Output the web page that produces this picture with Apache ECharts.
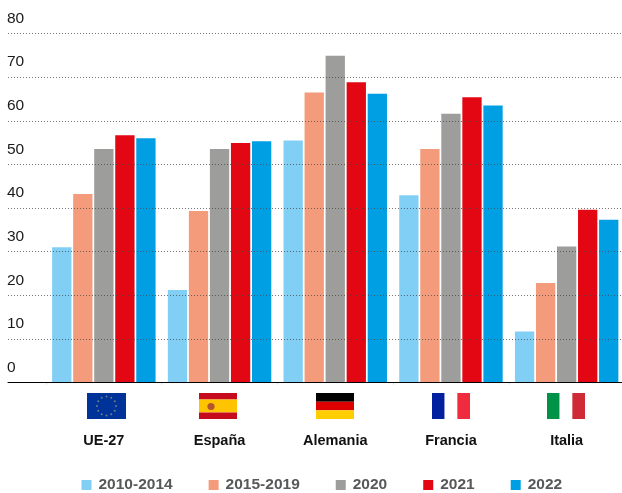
<!DOCTYPE html>
<html>
<head>
<meta charset="utf-8">
<style>
  html, body { margin: 0; padding: 0; background: #fff; }
  #chart { width: 622px; height: 493px; }
</style>
</head>
<body>
<div id="chart"></div>
<script src="https://cdn.jsdelivr.net/npm/echarts@6/dist/echarts.min.js"></script>
<script>
var categories = ["UE-27", "España", "Alemania", "Francia", "Italia"];
var seriesNames = ["2010-2014", "2015-2019", "2020", "2021", "2022"];
var seriesColors = ["#82cff5", "#f39b7b", "#9d9d9c", "#e30613", "#009fe3"];

var values2010 = [31, 21.2, 55.5, 42.9, 11.7];
var values2015 = [43.2, 39.3, 66.5, 53.5, 22.8];
var values2020 = [53.5, 53.5, 74.9, 61.6, 31.2];
var values2021 = [56.7, 54.9, 68.8, 65.4, 39.6];
var values2022 = [56, 55.3, 66.2, 63.5, 37.3];
var allValues = [values2010, values2015, values2020, values2021, values2022];

var font = '"Liberation Sans", Arial, sans-serif';
var chartInstance = echarts.init(document.getElementById("chart"));

// banderas: dibujadas como decoracion bajo el eje
function rect(x, y, w, h, color) {
  return { type: "rect", shape: { x: x, y: y, width: w, height: h }, style: { fill: color }, silent: true };
}
function stripesH(x, w, colors, stops) {
  return colors.map(function (c, i) {
    return rect(x, 393 + stops[i], w, stops[i + 1] - stops[i], c);
  });
}
function stripesV(x, colors) {
  return colors.map(function (c, i) {
    return rect(x + i * 12.67, 393, 12.67, 26, c);
  });
}
function flags() {
  var els = [rect(87, 393, 39, 26, "#003399")];
  for (var i = 0; i < 12; i++) {
    var a = (i * Math.PI) / 6;
    els.push({
      type: "circle",
      shape: { cx: 106.5 + 9.5 * Math.cos(a), cy: 406 + 9.5 * Math.sin(a), r: 1 },
      style: { fill: "#6f7f86" },
      silent: true,
    });
  }
  els = els.concat(stripesH(199, 38, ["#c60b1e", "#ffc400", "#c60b1e"], [0, 6.5, 19.5, 26]));
  els.push({ type: "circle", shape: { cx: 211, cy: 406.5, r: 3.6 }, style: { fill: "#b5552f" }, silent: true });
  els = els.concat(stripesH(316, 38, ["#000000", "#dd0000", "#ffce00"], [0, 8.67, 17.33, 26]));
  els = els.concat(stripesV(432, ["#00209f", "#ffffff", "#ef2b3d"]));
  els = els.concat(stripesV(547, ["#009246", "#ffffff", "#ce2b37"]));
  return els;
}

var option = {
  backgroundColor: "#fff",
  animation: false,
  grid: [
    // lineas de guia y eje base, de borde a borde
    { left: 8, top: 33.5, width: 614, height: 349, outerBoundsMode: "none" },
    // barras
    { left: 46, top: 33.5, width: 578.5, height: 349, outerBoundsMode: "none" },
    // numeros: no coinciden con las lineas en el original
    { left: 7, top: 18.5, width: 100, height: 349, outerBoundsMode: "none" },
  ],
  xAxis: [
    {
      gridIndex: 0,
      type: "category",
      data: categories,
      z: 3,
      axisLine: { show: true, lineStyle: { color: "#000", width: 1 } },
      axisTick: { show: false },
      axisLabel: { show: false },
    },
    {
      gridIndex: 1,
      type: "category",
      data: categories,
      axisLine: { show: false },
      axisTick: { show: true, length: 2, lineStyle: { color: "#ddd" } },
      axisLabel: {
        margin: 51,
        color: "#111",
        fontFamily: font,
        fontWeight: "bold",
        fontSize: 14.5,
      },
    },
    { gridIndex: 2, type: "category", data: categories, show: false },
  ],
  yAxis: [
    {
      gridIndex: 0,
      type: "value",
      min: 0,
      max: 80,
      interval: 10,
      z: 3,
      axisLine: { show: false },
      axisTick: { show: false },
      axisLabel: { show: false },
      splitLine: { lineStyle: { color: "rgba(70,70,70,.75)", type: [1, 2], width: 1 } },
    },
    { gridIndex: 1, type: "value", min: 0, max: 80, interval: 10, show: false },
    {
      gridIndex: 2,
      type: "value",
      min: 0,
      max: 80,
      interval: 10,
      position: "left",
      axisLine: { show: false },
      axisTick: { show: false },
      splitLine: { show: false },
      axisLabel: {
        inside: true,
        margin: 0,
        color: "#1a1a1a",
        fontFamily: font,
        fontSize: 15.5,
      },
    },
  ],
  legend: {
    left: 81.5,
    top: 477,
    padding: 0,
    itemWidth: 10,
    itemHeight: 10,
    itemGap: 36,
    icon: "rect",
    selectedMode: false,
    textStyle: {
      color: "#58585a",
      fontFamily: font,
      fontWeight: "bold",
      fontSize: 15.5,
      padding: [0, 0, 0, 2],
    },
    data: seriesNames,
  },
  series: seriesNames.map(function (name, i) {
    return {
      name: name,
      type: "bar",
      xAxisIndex: 1,
      yAxisIndex: 1,
      barWidth: 19.3,
      barGap: "9%",
      itemStyle: { color: seriesColors[i] },
      data: allValues[i],
    };
  }),
  graphic: flags(),
};
chartInstance.setOption(option);
</script>
</body>
</html>
